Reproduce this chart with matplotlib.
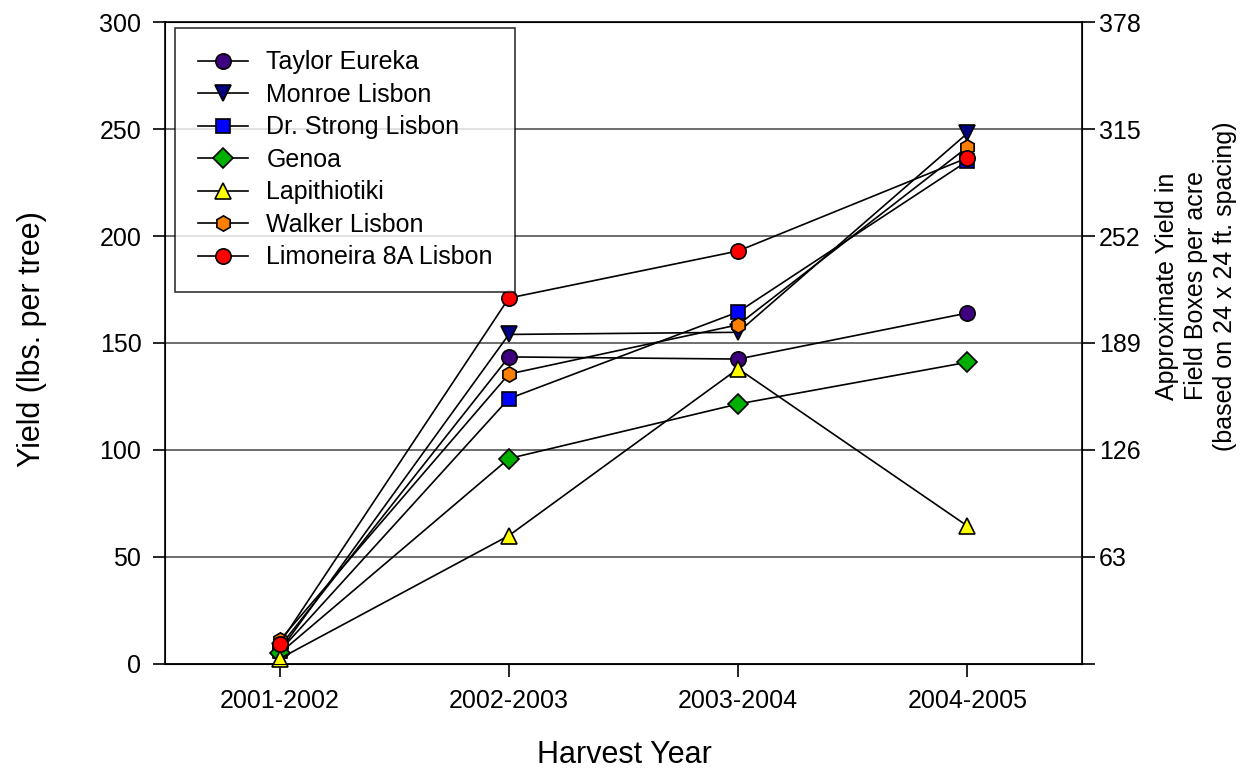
import matplotlib.pyplot as plt
import numpy as np

plt.rcParams['font.family'] = ['Liberation Sans', 'DejaVu Sans']

seasons = ['2001-2002', '2002-2003', '2003-2004', '2004-2005']

# yield in lbs per tree, one list per variety
taylor_eureka = [8, 143.5, 142.5, 164]
monroe_lisbon = [6, 154, 155, 248]
dr_strong_lisbon = [6, 124, 164.5, 235]
genoa = [5, 96, 121.5, 141]
lapithiotiki = [2.5, 60, 138, 64.5]
walker_lisbon = [11, 135.5, 158.5, 241.5]
limoneira_8a = [9.5, 171, 193, 236.5]

series = [
    ('Taylor Eureka', taylor_eureka, 'o', '#3f007f'),
    ('Monroe Lisbon', monroe_lisbon, 'v', '#000080'),
    ('Dr. Strong Lisbon', dr_strong_lisbon, 's', '#0000ff'),
    ('Genoa', genoa, 'D', '#00b000'),
    ('Lapithiotiki', lapithiotiki, '^', '#ffff00'),
    ('Walker Lisbon', walker_lisbon, 'h', '#ff8000'),
    ('Limoneira 8A Lisbon', limoneira_8a, 'o', '#ff0000'),
]
marker_sizes = {'o': 11, 'v': 11, 's': 10, 'D': 10, '^': 11, 'h': 11}

# 1 lb/tree -> 1.26 field boxes/acre at 24 x 24 ft spacing
box_factor = 1.26

fig = plt.figure(figsize=(12.52, 7.72), dpi=100)
ax = fig.add_axes([0.1318, 0.1399, 0.8642 - 0.1318, 0.9715 - 0.1399])

x = np.arange(len(seasons))
for name, vals, mk, col in series:
    ax.plot(x, vals, color='black', lw=1.2, marker=mk,
            markersize=marker_sizes[mk], markerfacecolor=col,
            markeredgecolor='black', markeredgewidth=1.2,
            label=name, zorder=3, clip_on=False)

ax.set_xlim(-0.5, 3.5)
ax.set_ylim(0, 300)
ax.set_yticks(np.arange(0, 301, 50))
ax.set_xticks(x)
ax.set_xticklabels(seasons)
ax.yaxis.grid(True, color='#555555', lw=1.2)
ax.set_axisbelow(True)
ax.tick_params(axis='both', direction='out', length=9, width=1.2,
               labelsize=18, colors='black')
ax.tick_params(axis='x', pad=9)
ax.tick_params(axis='y', pad=8)
for s in ax.spines.values():
    s.set_linewidth(1.2)

fig.text(624 / 1252, 1 - 755 / 772, 'Harvest Year', fontsize=22,
         ha='center', va='center')
fig.text(32 / 1252, 1 - 339 / 772, 'Yield (lbs. per tree)', fontsize=22,
         rotation=90, ha='center', va='center')

ax2 = ax.twinx()
ax2.set_ylim(0, 300 * box_factor)
box_ticks = np.arange(0, 379, 63)
ax2.set_yticks(box_ticks)
ax2.set_yticklabels([''] + [str(t) for t in box_ticks[1:]])
ax2.tick_params(axis='y', direction='out', length=9, width=1.2,
                labelsize=18, pad=3)
fig.text(1196 / 1252, 1 - 286 / 772,
         'Approximate Yield in\nField Boxes per acre\n(based on 24 x 24 ft. spacing)',
         fontsize=18, rotation=90, ha='center', va='center',
         multialignment='center', linespacing=1.25)

leg = ax.legend(loc='upper left', bbox_to_anchor=(0.0109, 0.9907),
                borderaxespad=0, fontsize=18, frameon=True, fancybox=False,
                edgecolor='black', handlelength=2.0, labelspacing=0.34,
                borderpad=0.9, handletextpad=0.75)
leg.get_frame().set_linewidth(1.2)
leg.set_zorder(5)

fig.savefig('out.png', dpi=100)
